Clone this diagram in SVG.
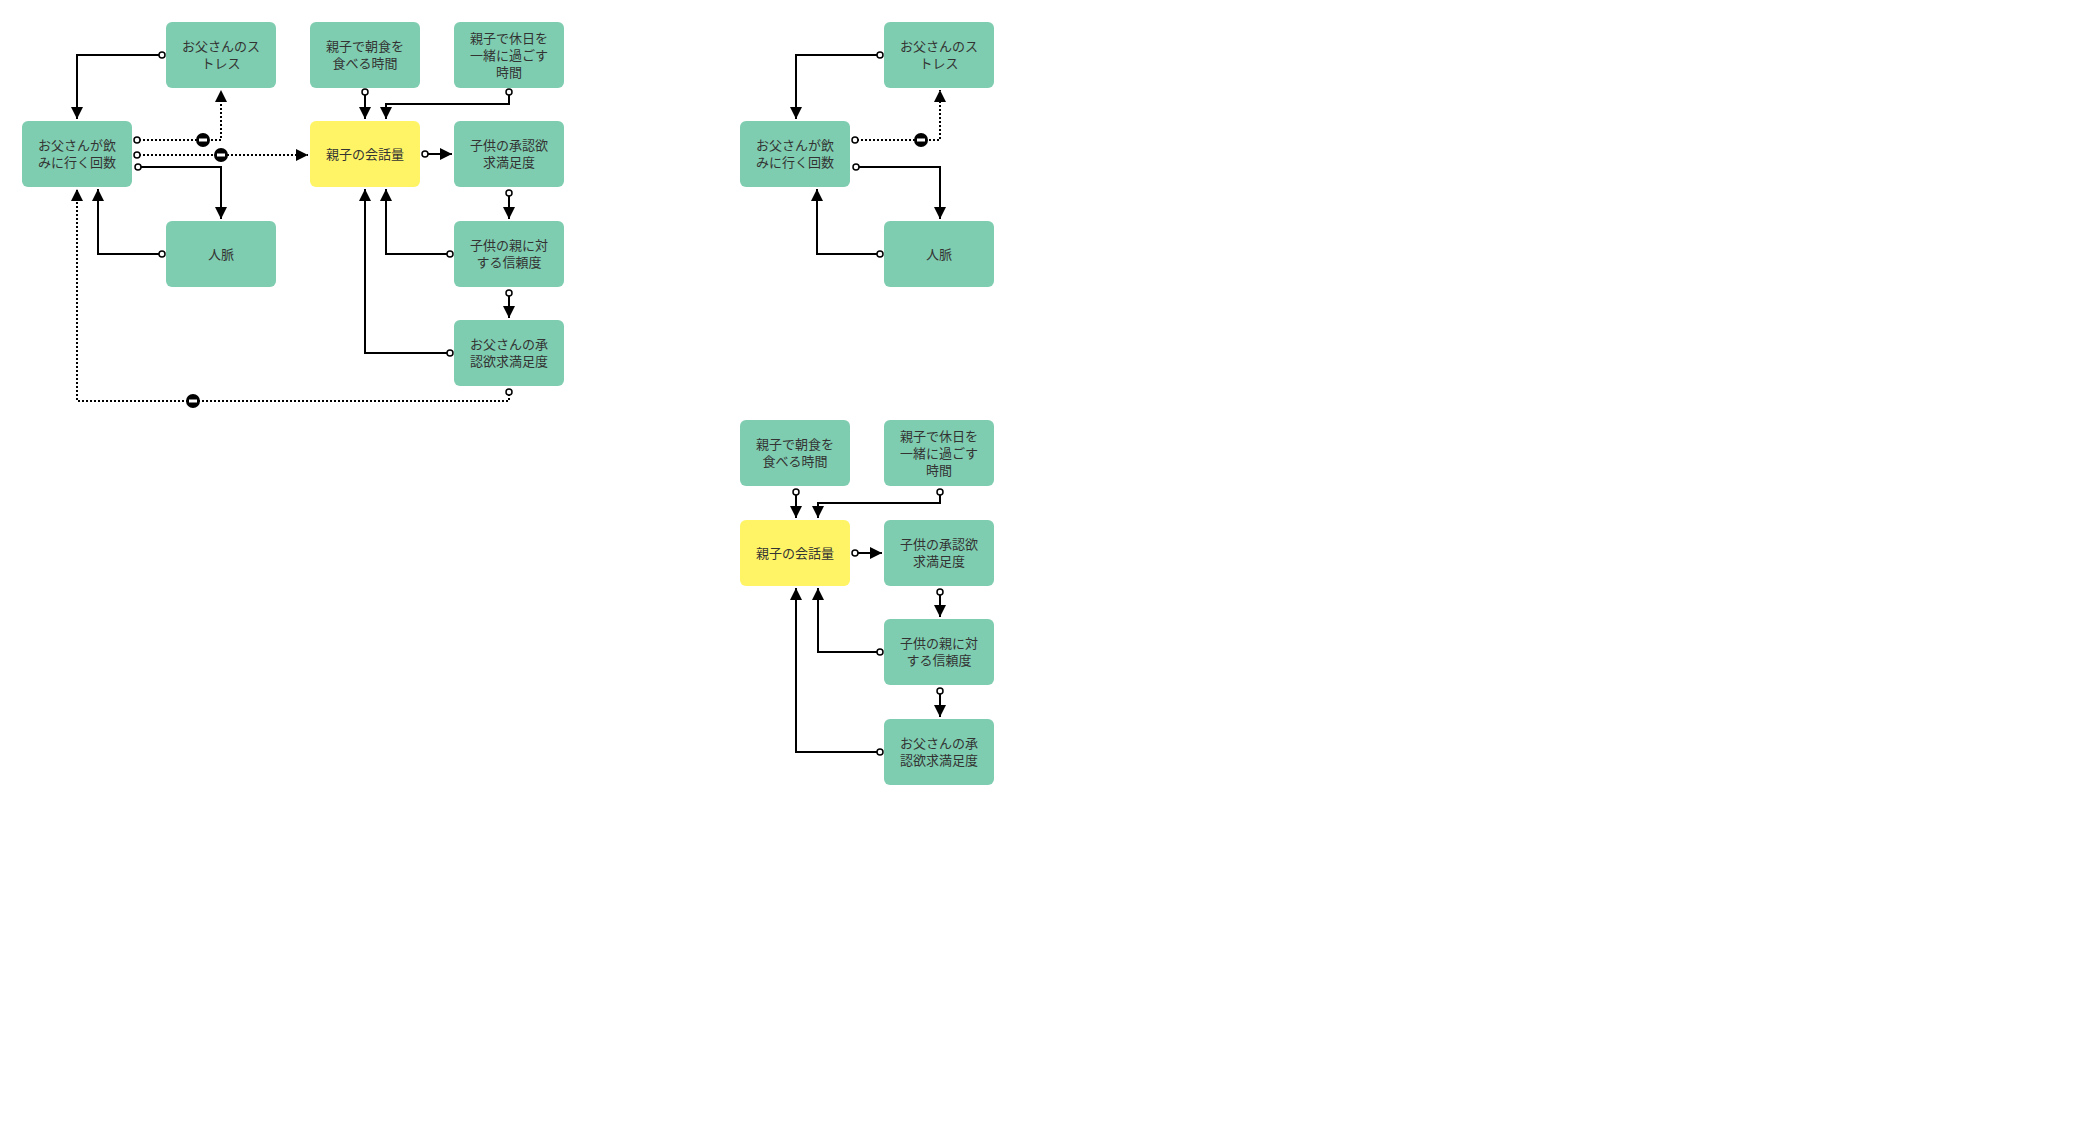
<svg xmlns="http://www.w3.org/2000/svg" width="2100" height="1122" viewBox="0 0 2100 1122">
<style>
.n{fill:#7fcdb0}
.y{fill:#fff466}
text{font-family:"Noto Sans CJK JP","Noto Sans",sans-serif;font-size:13px;fill:#333;text-anchor:middle}
.c{fill:none;stroke:#000;stroke-width:2;marker-start:url(#o);marker-end:url(#a)}
.d{stroke-dasharray:2 2}
.m{fill:#000}
.mb{fill:#fff}
</style>
<defs>
<marker id="a" markerUnits="userSpaceOnUse" markerWidth="12" markerHeight="12" refX="10" refY="5" orient="auto" viewBox="0 0 10 10"><path d="M0,0L10,5L0,10z" fill="#000"/></marker>
<marker id="o" markerUnits="userSpaceOnUse" markerWidth="10" markerHeight="10" refX="3" refY="5" orient="auto" viewBox="0 0 10 10"><circle cx="5" cy="5" r="3" fill="#fff" stroke="#000" stroke-width="1.5"/></marker>
<g id="minus"><circle r="7" class="m"/><rect x="-4" y="-1.5" width="8" height="3" class="mb"/></g>
</defs>
<rect width="2100" height="1122" fill="#fff"/>
<g id="connectors">
<path class="c" d="M164,55H77V119"/>
<path class="c d" d="M135,140H221V90"/>
<path class="c d" d="M135,155H308"/>
<path class="c" d="M136,167H221V219"/>
<path class="c" d="M164,254H98V189"/>
<path class="c" d="M365,90V119"/>
<path class="c" d="M509,90V104H386V119"/>
<path class="c" d="M423,154H452"/>
<path class="c" d="M509,191V219"/>
<path class="c" d="M452,254H386V189"/>
<path class="c" d="M509,291V318"/>
<path class="c" d="M452,353H365V189"/>
<path class="c d" d="M509,390V401H77V189"/>
<use href="#minus" x="203" y="140"/>
<use href="#minus" x="221" y="155"/>
<use href="#minus" x="193" y="401"/>
<path class="c" d="M882,55H796V119"/>
<path class="c d" d="M853,140H940V90"/>
<path class="c" d="M854,167H940V219"/>
<path class="c" d="M882,254H817V189"/>
<use href="#minus" x="921" y="140"/>
<path class="c" d="M796,490V518"/>
<path class="c" d="M940,490V503H818V518"/>
<path class="c" d="M853,553H882"/>
<path class="c" d="M940,590V617"/>
<path class="c" d="M882,652H818V588"/>
<path class="c" d="M940,689V717"/>
<path class="c" d="M882,752H796V588"/>
</g>
<g id="n1"><rect class="n" x="166" y="22" width="110" height="66" rx="6"/><text x="221" y="51">お父さんのス</text><text x="221" y="68">トレス</text></g>
<g id="n2"><rect class="n" x="310" y="22" width="110" height="66" rx="6"/><text x="365" y="51">親子で朝食を</text><text x="365" y="68">食べる時間</text></g>
<g id="n3"><rect class="n" x="454" y="22" width="110" height="66" rx="6"/><text x="509" y="43">親子で休日を</text><text x="509" y="60">一緒に過ごす</text><text x="509" y="77">時間</text></g>
<g id="n4"><rect class="n" x="22" y="121" width="110" height="66" rx="6"/><text x="77" y="150">お父さんが飲</text><text x="77" y="167">みに行く回数</text></g>
<g id="n5"><rect class="y" x="310" y="121" width="110" height="66" rx="6"/><text x="365" y="159">親子の会話量</text></g>
<g id="n6"><rect class="n" x="454" y="121" width="110" height="66" rx="6"/><text x="509" y="150">子供の承認欲</text><text x="509" y="167">求満足度</text></g>
<g id="n7"><rect class="n" x="166" y="221" width="110" height="66" rx="6"/><text x="221" y="259">人脈</text></g>
<g id="n8"><rect class="n" x="454" y="221" width="110" height="66" rx="6"/><text x="509" y="250">子供の親に対</text><text x="509" y="267">する信頼度</text></g>
<g id="n9"><rect class="n" x="454" y="320" width="110" height="66" rx="6"/><text x="509" y="349">お父さんの承</text><text x="509" y="366">認欲求満足度</text></g>
<g id="r1"><rect class="n" x="884" y="22" width="110" height="66" rx="6"/><text x="939" y="51">お父さんのス</text><text x="939" y="68">トレス</text></g>
<g id="r2"><rect class="n" x="740" y="121" width="110" height="66" rx="6"/><text x="795" y="150">お父さんが飲</text><text x="795" y="167">みに行く回数</text></g>
<g id="r3"><rect class="n" x="884" y="221" width="110" height="66" rx="6"/><text x="939" y="259">人脈</text></g>
<g id="r4"><rect class="n" x="740" y="420" width="110" height="66" rx="6"/><text x="795" y="449">親子で朝食を</text><text x="795" y="466">食べる時間</text></g>
<g id="r5"><rect class="n" x="884" y="420" width="110" height="66" rx="6"/><text x="939" y="441">親子で休日を</text><text x="939" y="458">一緒に過ごす</text><text x="939" y="475">時間</text></g>
<g id="r6"><rect class="y" x="740" y="520" width="110" height="66" rx="6"/><text x="795" y="558">親子の会話量</text></g>
<g id="r7"><rect class="n" x="884" y="520" width="110" height="66" rx="6"/><text x="939" y="549">子供の承認欲</text><text x="939" y="566">求満足度</text></g>
<g id="r8"><rect class="n" x="884" y="619" width="110" height="66" rx="6"/><text x="939" y="648">子供の親に対</text><text x="939" y="665">する信頼度</text></g>
<g id="r9"><rect class="n" x="884" y="719" width="110" height="66" rx="6"/><text x="939" y="748">お父さんの承</text><text x="939" y="765">認欲求満足度</text></g>
</svg>
